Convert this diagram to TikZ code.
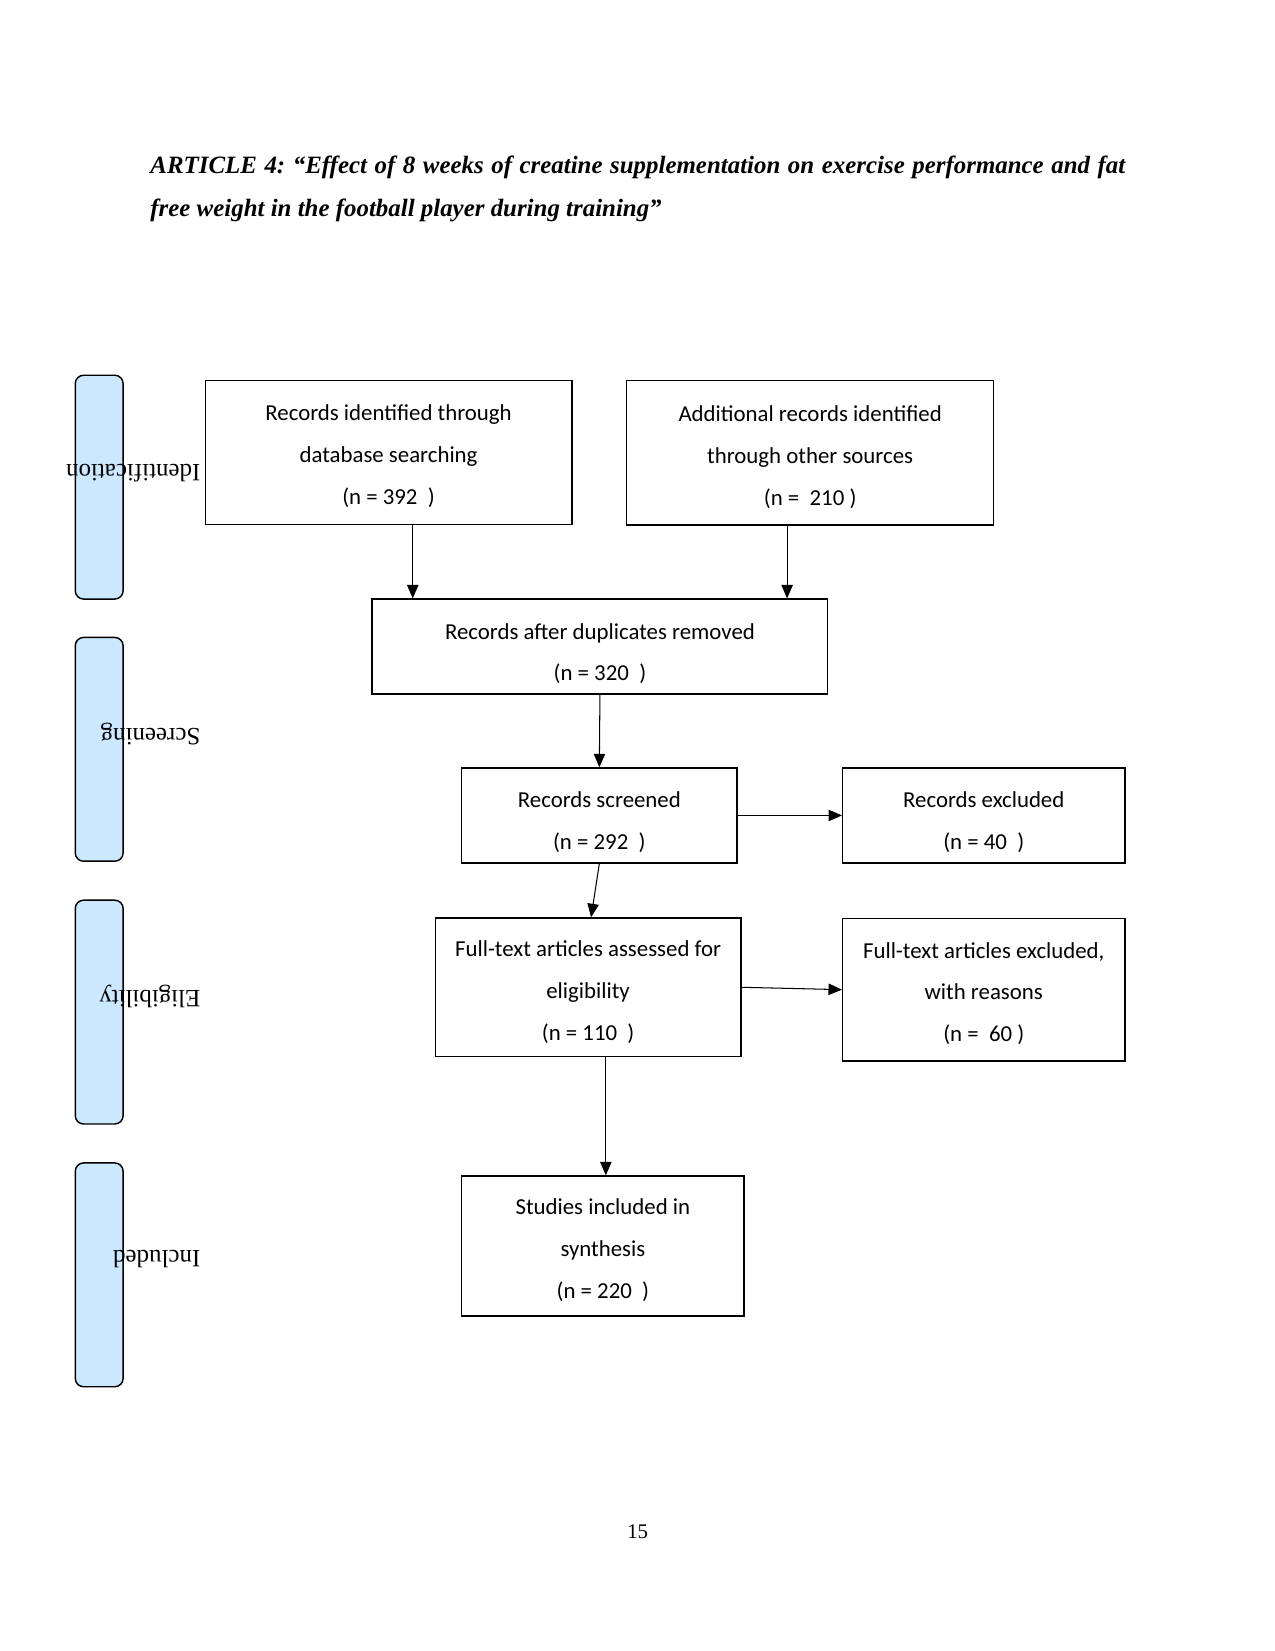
\documentclass[tikz,border=0pt]{standalone}
\usepackage{fontspec}
\setmainfont{Liberation Serif}
\newfontfamily\boxfont{Carlito}
\usetikzlibrary{arrows.meta, positioning}
\definecolor{phaseblue}{HTML}{CCE8FF}
\newcommand{\topgap}[1][11.5pt]{\rule{0pt}{#1}}
\frenchspacing

\begin{document}
\begin{tikzpicture}[
    box/.style={draw, line width=0.6pt, align=center, inner sep=2pt,
        font=\boxfont\fontsize{11}{20.2}\selectfont},
    phase/.style={draw, line width=0.7pt, fill=phaseblue, rounded corners=4pt,
        minimum width=0.81cm, minimum height=3.79cm},
    plbl/.style={rotate=180, anchor=west, inner sep=0pt, font=\fontsize{12}{14}\selectfont},
    arr/.style={-{Triangle[length=6.5pt, width=5.5pt]}, line width=0.5pt}
]
\useasboundingbox (0,0) rectangle (21.59, 27.96);

% ---- Title ----
\node[anchor=north west, text width=16.51cm, align=justify, inner sep=0pt,
      font=\bfseries\itshape\fontsize{12}{20.7}\selectfont] (title) at (2.54, 25.33)
    {ARTICLE 4: “Effect of 8 weeks of creatine supplementation on exercise performance and fat\linebreak free weight in the football player during training”};

% ---- Phase bars (left) ----
\node[phase] (idbar) at (1.68, 19.71) {};
\node[phase] (scbar) at (1.68, 15.27) {};
\node[phase] (elbar) at (1.68, 10.82) {};
\node[phase] (inbar) at (1.68, 6.37) {};
\node[plbl] (idlbl) at (3.40, 19.95) {Identification};
\node[plbl] (sclbl) at (3.40, 15.53) {Screening};
\node[plbl] (ellbl) at (3.40, 11.08) {Eligibility};
\node[plbl] (inlbl) at (3.40, 6.64) {Included};

% ---- Identification ----
\node[box, minimum width=6.21cm, minimum height=2.44cm] (recid) at (6.58, 20.30)
    {\topgap Records identified through\\database searching\\(n = 392~~)};
\node[box, minimum width=6.21cm, minimum height=2.44cm] (addrec) at (13.72, 20.29)
    {\topgap Additional records identified\\through other sources\\(n =~~210 )};
\node[box, minimum width=7.72cm, minimum height=1.61cm] (dupl) at (10.16, 17.01)
    {\topgap[14.5pt]Records after duplicates removed\\(n = 320~~)};

% ---- Screening ----
\node[box, minimum width=4.66cm, minimum height=1.61cm] (screen) at (10.15, 14.15)
    {\topgap[14.5pt]Records screened\\(n = 292~~)};
\node[box, minimum width=4.78cm, minimum height=1.61cm] (excl) at (16.66, 14.15)
    {\topgap[14.5pt]Records excluded\\(n = 40~~)};

% ---- Eligibility ----
\node[box, minimum width=5.18cm, minimum height=2.35cm] (full) at (9.96, 11.24)
    {\topgap[12.5pt]Full-text articles assessed for\\eligibility\\(n = 110~~)};
\node[box, minimum width=4.78cm, minimum height=2.42cm] (ftexcl) at (16.66, 11.20)
    {\topgap Full-text articles excluded,\\with reasons\\(n =~~60 )};

% ---- Included ----
\node[box, minimum width=4.78cm, minimum height=2.37cm] (incl) at (10.21, 6.86)
    {\topgap Studies included in\\synthesis\\(n = 220~~)};

% ---- Connectors ----
\draw[arr] ([xshift=0.41cm]recid.south) -- ([xshift=0.41cm]recid.south |- dupl.north);
\draw[arr] ([xshift=-0.39cm]addrec.south) -- ([xshift=-0.39cm]addrec.south |- dupl.north);
\draw[arr] (dupl.south) -- (screen.north);
\draw[arr] (screen.east) -- (excl.west);
\draw[arr] (screen.south) -- ([xshift=0.05cm]full.north);
\draw[arr] (full.east) -- (ftexcl.west);
\draw[arr] ([xshift=0.05cm]full.south -| incl.north) -- ([xshift=0.05cm]incl.north);

% ---- Page number ----
\node (pgnum) at (10.80, 2.02) {15};

\end{tikzpicture}
\end{document}
